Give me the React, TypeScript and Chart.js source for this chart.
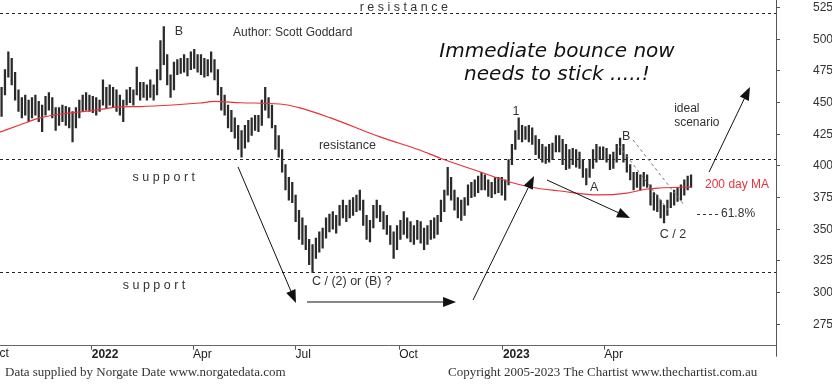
import React, { useEffect, useRef } from "react";
import { Chart, registerables } from "chart.js";

Chart.register(...registerables);

// x values are calendar days after 1 Oct 2021; one bar sampled every 3 days
const barStartDay = 12;
const barStepDays = 3;

const highs = [
  462, 476, 490, 485, 474, 460, 454, 456, 452, 454,
  456, 451, 448, 455, 458, 454, 446, 446, 448, 447,
  446, 443, 446, 452, 456, 458, 456, 455, 454, 452,
  468, 462, 464, 462, 460, 456, 452, 460, 462, 460,
  478, 466, 466, 464, 468, 464, 476, 499, 510, 488,
  472, 482, 484, 485, 488, 485, 490, 492, 488, 488,
  485, 484, 490, 484, 476, 462, 456, 448, 444, 438,
  432, 428, 432, 436, 438, 440, 440, 452, 462, 454,
  448, 432, 424, 413, 401, 391, 387, 377, 365, 359,
  353, 342, 338, 343, 348, 351, 359, 362, 364, 361,
  369, 373, 369, 373, 375, 377, 381, 373, 361, 357,
  369, 373, 369, 364, 361, 353, 348, 353, 357, 364,
  359, 356, 353, 357, 356, 351, 353, 357, 359, 361,
  373, 381, 399, 391, 381, 375, 373, 375, 385, 387,
  389, 392, 395, 393, 389, 387, 391, 391, 391, 389,
  405, 417, 428, 438, 432, 431, 432, 430, 424, 421,
  417, 415, 417, 418, 424, 424, 421, 417, 413, 414,
  413, 411, 405, 398, 405, 413, 417, 415, 415, 414,
  409, 411, 417, 422, 417, 409, 401, 395, 395, 393,
  395, 393, 385, 379, 377, 373, 369, 373, 379, 381,
  383, 385, 389, 392, 393,
];

const lows = [
  439, 456, 470, 464, 452, 443, 438, 440, 435, 438,
  440, 435, 427, 440, 444, 438, 428, 432, 435, 432,
  430, 419, 430, 438, 443, 444, 443, 442, 440, 443,
  448, 446, 448, 446, 443, 440, 435, 448, 450, 448,
  456, 452, 454, 452, 454, 452, 456, 468, 480, 464,
  454, 460, 472, 473, 474, 471, 476, 477, 474, 472,
  470, 471, 474, 468, 456, 444, 440, 430, 427, 422,
  413, 407, 414, 419, 424, 428, 427, 432, 444, 438,
  430, 413, 407, 395, 381, 373, 371, 356, 342, 338,
  334, 322, 316, 327, 332, 335, 343, 348, 350, 347,
  353, 359, 356, 359, 361, 364, 365, 353, 342, 340,
  351, 359, 356, 350, 346, 338, 327, 334, 342, 346,
  343, 340, 338, 342, 339, 334, 338, 342, 343, 346,
  356, 364, 377, 373, 365, 359, 357, 361, 369, 375,
  376, 379, 381, 381, 376, 375, 378, 379, 377, 373,
  385, 401, 413, 421, 419, 421, 419, 417, 409, 406,
  403, 402, 403, 405, 411, 411, 401, 397, 398, 401,
  399, 398, 391, 385, 391, 398, 403, 405, 405, 403,
  397, 398, 403, 409, 403, 395, 389, 381, 383, 381,
  384, 383, 369, 365, 364, 359, 355, 361, 367, 369,
  372, 373, 377, 381, 383,
];

// 200 day moving average
const maDays = [10, 28, 46, 64, 82, 99, 117, 135, 164, 188, 201, 224, 259, 277, 304, 348, 383, 401, 437, 463, 481, 508, 543, 567, 585, 596, 624];
const maValues = [426.5, 432.3, 437.9, 441.0, 442.6, 444.6, 446.6, 446.9, 448.1, 449.7, 450.9, 449.9, 448.9, 445.8, 437.9, 422.9, 412.6, 406.3, 395.2, 387.3, 383.4, 380.2, 377.1, 378.6, 381.8, 382.6, 383.4];

const xTickDays = [92, 182, 273, 365, 457, 547];
const xTickLabels = ["2022", "Apr", "Jul", "Oct", "2023", "Apr"];
const yTickValues = [275, 300, 325, 350, 375, 400, 425, 450, 475, 500, 525];

// support / resistance levels
const levelValues = [520.5, 405.5, 316];

const xMin = 10.6;
const xMax = 699.4;
const yMin = 258.1;
const yMax = 531;

type Note = { text: string; day: number; value: number; align: CanvasTextAlign; kind: string };
const notes: Note[] = [
  { text: "r e s i s t a n c e", day: 369, value: 525, align: "center", kind: "normal" },
  { text: "B", day: 169.5, value: 505.8, align: "center", kind: "normal" },
  { text: "Author: Scott Goddard", day: 217.4, value: 505, align: "left", kind: "small" },
  { text: "resistance", day: 319, value: 415.8, align: "center", kind: "normal" },
  { text: "s u p p o r t", day: 156, value: 390.5, align: "center", kind: "normal" },
  { text: "s u p p o r t", day: 147.3, value: 305.2, align: "center", kind: "normal" },
  { text: "1", day: 468.6, value: 442.6, align: "center", kind: "normal" },
  { text: "B", day: 566.3, value: 422.9, align: "center", kind: "normal" },
  { text: "A", day: 538, value: 382.6, align: "center", kind: "normal" },
  { text: "ideal", day: 609, value: 445, align: "left", kind: "small" },
  { text: "scenario", day: 609, value: 434, align: "left", kind: "small" },
  { text: "200 day MA", day: 636.4, value: 385, align: "left", kind: "red" },
  { text: "61.8%", day: 650.6, value: 362.1, align: "left", kind: "small" },
  { text: "C / 2", day: 608, value: 345.5, align: "center", kind: "normal" },
  { text: "C / (2) or (B) ?", day: 287.5, value: 308.4, align: "left", kind: "normal" },
  { text: "Immediate bounce now", day: 505, value: 490, align: "center", kind: "big" },
  { text: "needs to stick .....!", day: 505, value: 471.8, align: "center", kind: "big" },
];

const arrows = [
  { from: [221.9, 399.2], to: [273.3, 291.8] },
  { from: [283.1, 292.6], to: [415.4, 292.6] },
  { from: [430.5, 294.2], to: [484.6, 392.1] },
  { from: [496.1, 388.9], to: [569.8, 358.9] },
  { from: [640, 395.2], to: [676.3, 462.3] },
];

const channelLines = [
  { from: [560.1, 415.8], to: [603.6, 365.2] },
  { from: [572.5, 420.5], to: [617.7, 369.2] },
];

const fibDash = { from: [629.3, 362.1], to: [648.8, 362.1] };

const footerLeft = "Data supplied by Norgate Date www.norgatedata.com";
const footerRight = "Copyright 2005-2023 The Chartist www.thechartist.com.au";

const SANS = '"Liberation Sans", Arial, sans-serif';

const annotationPlugin = {
  id: "chartAnnotations",
  beforeDatasetsDraw(chart: any) {
    const { ctx, chartArea, scales } = chart;
    const y = scales.y;
    ctx.save();
    ctx.strokeStyle = "#222";
    ctx.lineWidth = 1;
    ctx.setLineDash([3, 3]);
    for (const v of levelValues) {
      const py = Math.round(y.getPixelForValue(v)) + 0.5;
      ctx.beginPath();
      ctx.moveTo(chartArea.left, py);
      ctx.lineTo(chartArea.right, py);
      ctx.stroke();
    }
    ctx.restore();
  },
  afterDraw(chart: any) {
    const { ctx, chartArea, scales } = chart;
    const x = scales.x;
    const y = scales.y;
    const px = (d: number) => x.getPixelForValue(d);
    const py = (v: number) => y.getPixelForValue(v);
    ctx.save();

    // channel lines
    ctx.strokeStyle = "#777";
    ctx.lineWidth = 1;
    ctx.setLineDash([3, 3]);
    for (const l of channelLines) {
      ctx.beginPath();
      ctx.moveTo(px(l.from[0]), py(l.from[1]));
      ctx.lineTo(px(l.to[0]), py(l.to[1]));
      ctx.stroke();
    }
    ctx.strokeStyle = "#333";
    ctx.beginPath();
    ctx.moveTo(px(fibDash.from[0]), Math.round(py(fibDash.from[1])) + 0.5);
    ctx.lineTo(px(fibDash.to[0]), Math.round(py(fibDash.to[1])) + 0.5);
    ctx.stroke();
    ctx.setLineDash([]);

    // arrows
    ctx.strokeStyle = "#111";
    ctx.fillStyle = "#111";
    for (const a of arrows) {
      const x0 = px(a.from[0]);
      const y0 = py(a.from[1]);
      const x1 = px(a.to[0]);
      const y1 = py(a.to[1]);
      const ang = Math.atan2(y1 - y0, x1 - x0);
      const len = 13;
      const half = 5;
      const bx = x1 - Math.cos(ang) * len;
      const by = y1 - Math.sin(ang) * len;
      ctx.beginPath();
      ctx.moveTo(x0, y0);
      ctx.lineTo(bx, by);
      ctx.stroke();
      ctx.beginPath();
      ctx.moveTo(x1, y1);
      ctx.lineTo(bx + Math.sin(ang) * half, by - Math.cos(ang) * half);
      ctx.lineTo(bx - Math.sin(ang) * half, by + Math.cos(ang) * half);
      ctx.closePath();
      ctx.fill();
    }

    // notes
    ctx.textBaseline = "middle";
    for (const n of notes) {
      if (n.kind === "big") {
        ctx.font = 'italic 20px "DejaVu Sans", sans-serif';
        ctx.fillStyle = "#111";
      } else if (n.kind === "red") {
        ctx.font = "12px " + SANS;
        ctx.fillStyle = "#e8323c";
      } else if (n.kind === "small") {
        ctx.font = "12px " + SANS;
        ctx.fillStyle = "#333";
      } else {
        ctx.font = "12.5px " + SANS;
        ctx.fillStyle = "#333";
      }
      ctx.textAlign = n.align;
      ctx.fillText(n.text, px(n.day), py(n.value));
    }

    // partial first month label
    ctx.font = "12px " + SANS;
    ctx.fillStyle = "#222";
    ctx.textAlign = "left";
    ctx.textBaseline = "middle";
    ctx.fillText("Oct", px(0) + 2, chartArea.bottom + 8);

    // right axis extension below x axis
    ctx.strokeStyle = "#555";
    ctx.lineWidth = 1;
    ctx.beginPath();
    ctx.moveTo(chartArea.right + 0.5, chartArea.bottom);
    ctx.lineTo(chartArea.right + 0.5, chartArea.bottom + 11);
    ctx.stroke();

    // footer
    ctx.font = '13px "Liberation Serif", "Times New Roman", serif';
    ctx.fillStyle = "#333";
    ctx.textAlign = "left";
    ctx.fillText(footerLeft, 5, 373);
    ctx.fillText(footerRight, 448, 373);
    ctx.restore();
  },
};

export default function App() {
  const canvasRef = useRef<HTMLCanvasElement | null>(null);

  useEffect(() => {
    const canvas = canvasRef.current;
    if (!canvas) return;
    const barData = highs.map((h, i) => ({ x: barStartDay + barStepDays * i, y: [lows[i], h] }));
    const maData = maDays.map((d, i) => ({ x: d, y: maValues[i] }));

    const chart = new Chart(canvas, {
      type: "bar",
      data: {
        datasets: [
          {
            type: "line",
            data: maData,
            borderColor: "#e8323c",
            borderWidth: 1.2,
            pointRadius: 0,
            cubicInterpolationMode: "monotone",
            order: 0,
          } as any,
          {
            type: "bar",
            data: barData as any,
            backgroundColor: "#2a2a2a",
            barThickness: 1.6,
            order: 1,
          } as any,
        ],
      },
      options: {
        responsive: false,
        animation: false,
        devicePixelRatio: 1,
        layout: { padding: 0, autoPadding: false },
        plugins: { legend: { display: false }, tooltip: { enabled: false } },
        events: [],
        scales: {
          x: {
            type: "linear",
            position: "bottom",
            min: xMin,
            max: xMax,
            offset: false,
            afterBuildTicks: (axis: any) => {
              axis.ticks = xTickDays.map((v) => ({ value: v }));
            },
            afterFit: (axis: any) => {
              axis.height = 38.3;
              axis.paddingLeft = 0;
              axis.paddingRight = 0;
              axis.paddingTop = 0;
              axis.paddingBottom = 0;
            },
            grid: { drawOnChartArea: false, drawTicks: true, tickLength: 4, color: "#555", offset: false },
            border: { display: true, color: "#666" },
            ticks: {
              autoSkip: false,
              maxRotation: 0,
              align: "start",
              padding: -2,
              color: "#222",
              font: (ctx: any) => {
                const v = ctx.tick ? ctx.tick.value : 0;
                const idx = xTickDays.indexOf(v);
                const lbl = idx >= 0 ? xTickLabels[idx] : "";
                return { family: SANS, size: 12, weight: /^\d{4}$/.test(lbl) ? "bold" : "normal" };
              },
              callback: (value: any) => {
                const idx = xTickDays.indexOf(Number(value));
                return idx >= 0 ? xTickLabels[idx] : "";
              },
            },
          },
          y: {
            type: "linear",
            position: "right",
            min: yMin,
            max: yMax,
            afterBuildTicks: (axis: any) => {
              axis.ticks = yTickValues.map((v) => ({ value: v }));
            },
            afterFit: (axis: any) => {
              axis.width = 56;
              axis.paddingLeft = 0;
              axis.paddingRight = 0;
              axis.paddingTop = 0;
              axis.paddingBottom = 0;
            },
            grid: { drawOnChartArea: false, drawTicks: true, tickLength: 4, color: "#555" },
            border: { display: true, color: "#555" },
            ticks: {
              padding: 33,
              color: "#333",
              font: { family: SANS, size: 12 },
              callback: (value: any) => String(value),
            },
          },
        },
      },
      plugins: [annotationPlugin],
    });
    return () => chart.destroy();
  }, []);

  return (
    <div style={{ position: "absolute", left: 0, top: 0, width: 832, height: 384, background: "#fff" }}>
      <canvas ref={canvasRef} width={832} height={384} style={{ display: "block" }} />
    </div>
  );
}
